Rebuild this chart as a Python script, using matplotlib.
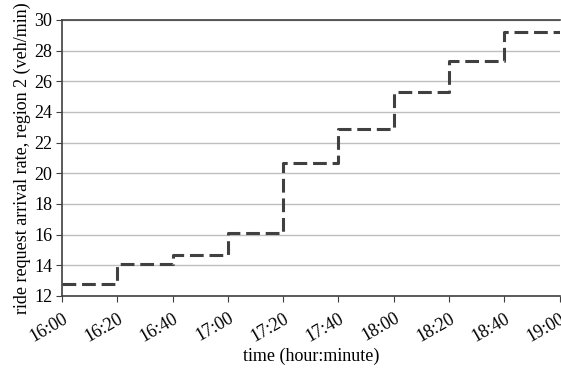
import matplotlib
matplotlib.use("Agg")
import matplotlib.pyplot as plt

tick_labels = ["16:00", "16:20", "16:40", "17:00", "17:20", "17:40", "18:00", "18:20", "18:40", "19:00"]
step_minutes = [0, 20, 40, 60, 80, 100, 120, 140, 160, 180]
rates = [12.8, 14.1, 14.7, 16.1, 20.7, 22.9, 25.3, 27.3, 29.2]

plt.rcParams['font.family'] = ['Liberation Serif', 'DejaVu Serif']

fig = plt.figure(figsize=(5.61, 3.69), dpi=100)
ax = fig.add_axes([0.1105, 0.198, 0.887, 0.748])

ys = rates + [rates[-1]]
line, = ax.step(step_minutes, ys, where='post', color='#404040', lw=2.2)
line.set_dashes([4.5, 1.9])

ax.set_xlim(0, 180)
ax.set_ylim(12, 30)
ax.set_yticks(range(12, 31, 2))
ax.set_xticks(step_minutes)
ax.set_xticklabels(tick_labels, rotation=30, ha='right', rotation_mode='anchor')
ax.tick_params(axis='both', labelsize=13, color='#404040', length=4, direction='out')
ax.tick_params(axis='x', pad=6)
ax.tick_params(axis='y', pad=3)
ax.yaxis.grid(True, color='#bfbfbf', lw=1)
ax.set_axisbelow(True)
for s in ['left', 'bottom', 'top']:
    ax.spines[s].set_color('#404040')
    ax.spines[s].set_linewidth(1.2)
ax.spines['right'].set_visible(False)

ax.set_xlabel('time (hour:minute)', fontsize=13, labelpad=2)
ax.set_ylabel('ride request arrival rate, region 2 (veh/min)', fontsize=13, labelpad=2)

fig.savefig('out.png', dpi=100)
